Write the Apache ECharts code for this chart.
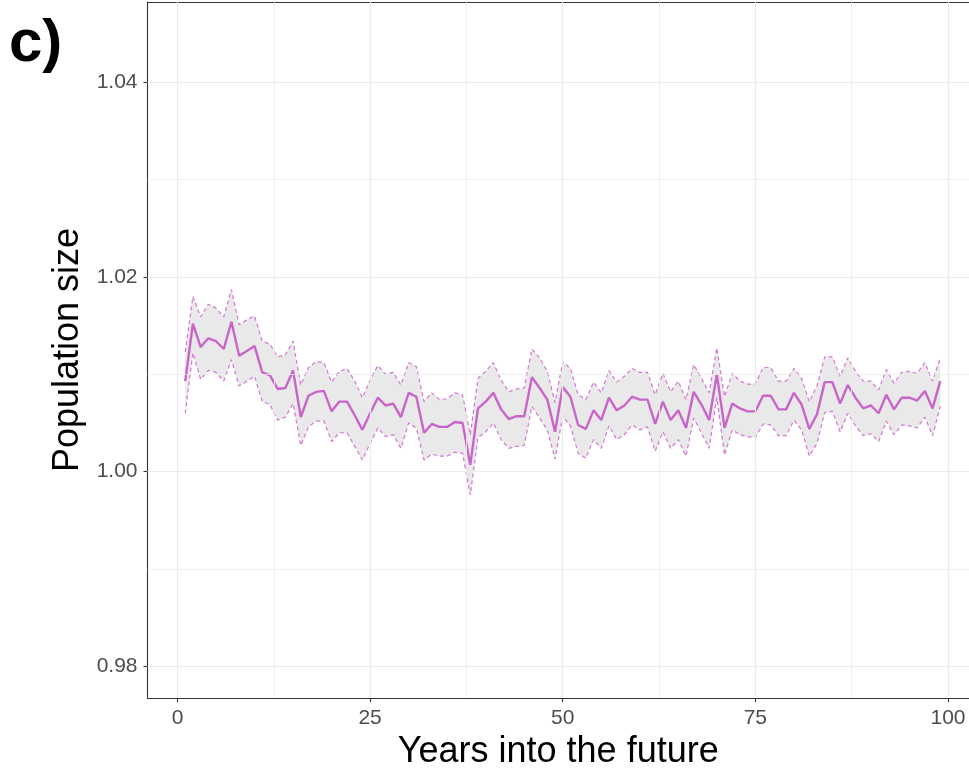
<!DOCTYPE html>
<html>
<head>
<meta charset="utf-8">
<script src="https://cdn.jsdelivr.net/npm/echarts@6/dist/echarts.min.js"></script>
<style>
  html, body { margin: 0; padding: 0; background: #ffffff; }
  #chart { width: 969px; height: 769px; }
</style>
</head>
<body>
<div id="chart"></div>
<script>
// Projected population size (mean and interval) for each future year
const years = [
  1, 2, 3, 4, 5, 6, 7, 8, 9, 10, 11, 12, 13, 14, 15, 16, 17, 18, 19, 20,
  21, 22, 23, 24, 25, 26, 27, 28, 29, 30, 31, 32, 33, 34, 35, 36, 37, 38, 39, 40,
  41, 42, 43, 44, 45, 46, 47, 48, 49, 50, 51, 52, 53, 54, 55, 56, 57, 58, 59, 60,
  61, 62, 63, 64, 65, 66, 67, 68, 69, 70, 71, 72, 73, 74, 75, 76, 77, 78, 79, 80,
  81, 82, 83, 84, 85, 86, 87, 88, 89, 90, 91, 92, 93, 94, 95, 96, 97, 98, 99
];

const meanSize = [
  1.0093, 1.0152, 1.0128, 1.0137, 1.0134, 1.0126, 1.0154, 1.0119, 1.0124, 1.0129,
  1.0102, 1.0099, 1.0085, 1.0086, 1.0104, 1.0056, 1.0078, 1.0082, 1.0083, 1.0062,
  1.0072, 1.0072, 1.0058, 1.0043, 1.0060, 1.0076, 1.0068, 1.0070, 1.0056, 1.0081,
  1.0077, 1.0040, 1.0049, 1.0046, 1.0046, 1.0051, 1.0050, 1.0007, 1.0065, 1.0072,
  1.0081, 1.0064, 1.0054, 1.0057, 1.0057, 1.0097, 1.0086, 1.0074, 1.0041, 1.0087,
  1.0077, 1.0048, 1.0044, 1.0063, 1.0053, 1.0076, 1.0063, 1.0068, 1.0077, 1.0074,
  1.0074, 1.0049, 1.0072, 1.0053, 1.0063, 1.0045, 1.0082, 1.0069, 1.0053, 1.0100,
  1.0045, 1.0070, 1.0065, 1.0062, 1.0062, 1.0078, 1.0078, 1.0064, 1.0064, 1.0081,
  1.0069, 1.0044, 1.0059, 1.0092, 1.0092, 1.0070, 1.0089, 1.0076, 1.0065, 1.0068,
  1.0060, 1.0079, 1.0064, 1.0076, 1.0076, 1.0073, 1.0083, 1.0065, 1.0093
];

const upperSize = [
  1.0123, 1.0180, 1.0159, 1.0172, 1.0168, 1.0159, 1.0187, 1.0151, 1.0156, 1.0160,
  1.0134, 1.0131, 1.0118, 1.0120, 1.0134, 1.0089, 1.0107, 1.0113, 1.0112, 1.0092,
  1.0103, 1.0106, 1.0093, 1.0076, 1.0094, 1.0109, 1.0100, 1.0102, 1.0089, 1.0112,
  1.0108, 1.0072, 1.0081, 1.0074, 1.0075, 1.0081, 1.0079, 1.0038, 1.0096, 1.0103,
  1.0112, 1.0094, 1.0082, 1.0085, 1.0086, 1.0126, 1.0117, 1.0103, 1.0071, 1.0113,
  1.0106, 1.0079, 1.0074, 1.0092, 1.0081, 1.0104, 1.0092, 1.0098, 1.0106, 1.0102,
  1.0102, 1.0079, 1.0101, 1.0082, 1.0093, 1.0074, 1.0110, 1.0096, 1.0081, 1.0127,
  1.0077, 1.0101, 1.0093, 1.0090, 1.0090, 1.0107, 1.0107, 1.0093, 1.0093, 1.0106,
  1.0096, 1.0072, 1.0088, 1.0118, 1.0118, 1.0098, 1.0117, 1.0103, 1.0093, 1.0093,
  1.0084, 1.0105, 1.0091, 1.0102, 1.0103, 1.0101, 1.0112, 1.0093, 1.0117
];

const lowerSize = [
  1.0060, 1.0122, 1.0095, 1.0104, 1.0102, 1.0093, 1.0115, 1.0088, 1.0093, 1.0098,
  1.0072, 1.0069, 1.0053, 1.0056, 1.0070, 1.0027, 1.0046, 1.0052, 1.0052, 1.0031,
  1.0040, 1.0040, 1.0026, 1.0012, 1.0029, 1.0045, 1.0036, 1.0038, 1.0024, 1.0050,
  1.0045, 1.0012, 1.0018, 1.0016, 1.0016, 1.0020, 1.0019, 0.9976, 1.0035, 1.0041,
  1.0050, 1.0033, 1.0024, 1.0026, 1.0027, 1.0067, 1.0055, 1.0043, 1.0013, 1.0057,
  1.0047, 1.0019, 1.0014, 1.0033, 1.0024, 1.0047, 1.0033, 1.0038, 1.0048, 1.0043,
  1.0046, 1.0021, 1.0041, 1.0024, 1.0033, 1.0016, 1.0055, 1.0040, 1.0024, 1.0076,
  1.0017, 1.0043, 1.0038, 1.0036, 1.0035, 1.0049, 1.0048, 1.0037, 1.0037, 1.0053,
  1.0043, 1.0016, 1.0029, 1.0061, 1.0062, 1.0041, 1.0060, 1.0047, 1.0037, 1.0039,
  1.0031, 1.0052, 1.0038, 1.0048, 1.0047, 1.0045, 1.0056, 1.0037, 1.0067
];

// Axis breaks and labels
const xTicks = [0, 25, 50, 75, 100];
const xMinorBreaks = [12.5, 37.5, 62.5, 87.5];
const yTicks = [0.98, 1.00, 1.02, 1.04];
const yTickLabels = ['0.98', '1.00', '1.02', '1.04'];
const yMinorBreaks = [0.99, 1.01, 1.03];

// Panel limits (the right edge of the panel runs off the canvas)
const X_MIN = -3.894, X_MAX = 102.73;
const Y_MIN = 0.97675, Y_MAX = 1.04825;

const FONT = 'Liberation Sans, Arial, sans-serif';
const LINE_COLOR = '#c964c9';
const DASH_COLOR = '#d377d3';
const FRAME = '#333333';

const chart = echarts.init(document.getElementById('chart'), null, { renderer: 'canvas' });

const pairs = (ys) => years.map((x, i) => [x, ys[i]]);

const gridLines = (vals, dim, width) => vals.map(v => ({
  [dim]: v,
  lineStyle: { color: '#ebebeb', width: width, type: 'solid' }
}));

chart.setOption({
  animation: false,
  backgroundColor: '#ffffff',
  graphic: [{
    type: 'text',
    left: 9,
    top: 14,
    style: { text: 'c)', font: 'bold 60px ' + FONT, fill: '#000000' }
  }],
  grid: {
    show: false,
    left: 147.5,
    right: 0,
    top: 2,
    bottom: 71,
    outerBoundsMode: 'none',
    containLabel: false
  },
  xAxis: [
    {
      type: 'value',
      min: X_MIN,
      max: X_MAX,
      name: 'Years into the future',
      nameLocation: 'middle',
      nameGap: 34,
      nameTextStyle: { fontFamily: FONT, fontSize: 36, color: '#000000' },
      axisLine: { show: true, onZero: false, lineStyle: { color: FRAME, width: 1.1 } },
      splitLine: { show: false },
      axisTick: {
        show: true, length: 4, inside: false,
        customValues: xTicks,
        lineStyle: { color: FRAME, width: 1.1 }
      },
      axisLabel: {
        show: true, margin: 10,
        customValues: xTicks,
        fontFamily: FONT, fontSize: 21, color: '#4d4d4d',
        formatter: (v) => String(v)
      }
    },
    {
      // top edge of the panel frame
      type: 'value',
      position: 'top',
      min: X_MIN,
      max: X_MAX,
      axisLine: { show: true, onZero: false, lineStyle: { color: FRAME, width: 1.1 } },
      axisTick: { show: false },
      axisLabel: { show: false },
      splitLine: { show: false }
    }
  ],
  yAxis: {
    type: 'value',
    min: Y_MIN,
    max: Y_MAX,
    name: 'Population size',
    nameLocation: 'middle',
    nameGap: 49,
    nameRotate: 90,
    nameTextStyle: { fontFamily: FONT, fontSize: 36, color: '#000000' },
    axisLine: { show: true, onZero: false, lineStyle: { color: FRAME, width: 1.1 } },
    splitLine: { show: false },
    axisTick: {
      show: true, length: 4, inside: false,
      customValues: yTicks,
      lineStyle: { color: FRAME, width: 1.1 }
    },
    axisLabel: {
      show: true, margin: 10,
      customValues: yTicks,
      fontFamily: FONT, fontSize: 21, color: '#4d4d4d',
      formatter: (v) => {
        const i = yTicks.findIndex(t => Math.abs(t - v) < 1e-9);
        return i >= 0 ? yTickLabels[i] : v.toFixed(2);
      }
    }
  },
  series: [
    {
      // panel grid: major and minor breaks
      type: 'line',
      data: [],
      z: 0,
      silent: true,
      markLine: {
        silent: true,
        symbol: ['none', 'none'],
        label: { show: false },
        animation: false,
        data: [
          ...gridLines(yMinorBreaks, 'yAxis', 0.8),
          ...gridLines(xMinorBreaks, 'xAxis', 0.8),
          ...gridLines(yTicks, 'yAxis', 1.2),
          ...gridLines(xTicks, 'xAxis', 1.2)
        ]
      }
    },
    {
      // shaded interval between lower and upper bounds
      type: 'custom',
      z: 1,
      silent: true,
      data: years.map((x, i) => [x, lowerSize[i], upperSize[i]]),
      encode: { x: 0, y: [1, 2] },
      renderItem: (params, api) => {
        if (params.dataIndex !== 0) return null;
        const pts = [];
        for (let i = 0; i < years.length; i++) pts.push(api.coord([years[i], upperSize[i]]));
        for (let i = years.length - 1; i >= 0; i--) pts.push(api.coord([years[i], lowerSize[i]]));
        return {
          type: 'polygon',
          shape: { points: pts },
          style: { fill: 'rgba(175,175,175,0.28)', stroke: null }
        };
      }
    },
    {
      type: 'line',
      z: 3,
      data: pairs(upperSize),
      symbol: 'none',
      silent: true,
      lineStyle: { color: DASH_COLOR, width: 1.2, type: [4, 3] }
    },
    {
      type: 'line',
      z: 3,
      data: pairs(lowerSize),
      symbol: 'none',
      silent: true,
      lineStyle: { color: DASH_COLOR, width: 1.2, type: [4, 3] }
    },
    {
      type: 'line',
      z: 4,
      data: pairs(meanSize),
      symbol: 'none',
      silent: true,
      lineStyle: { color: LINE_COLOR, width: 2.4 }
    }
  ]
});
</script>
</body>
</html>
